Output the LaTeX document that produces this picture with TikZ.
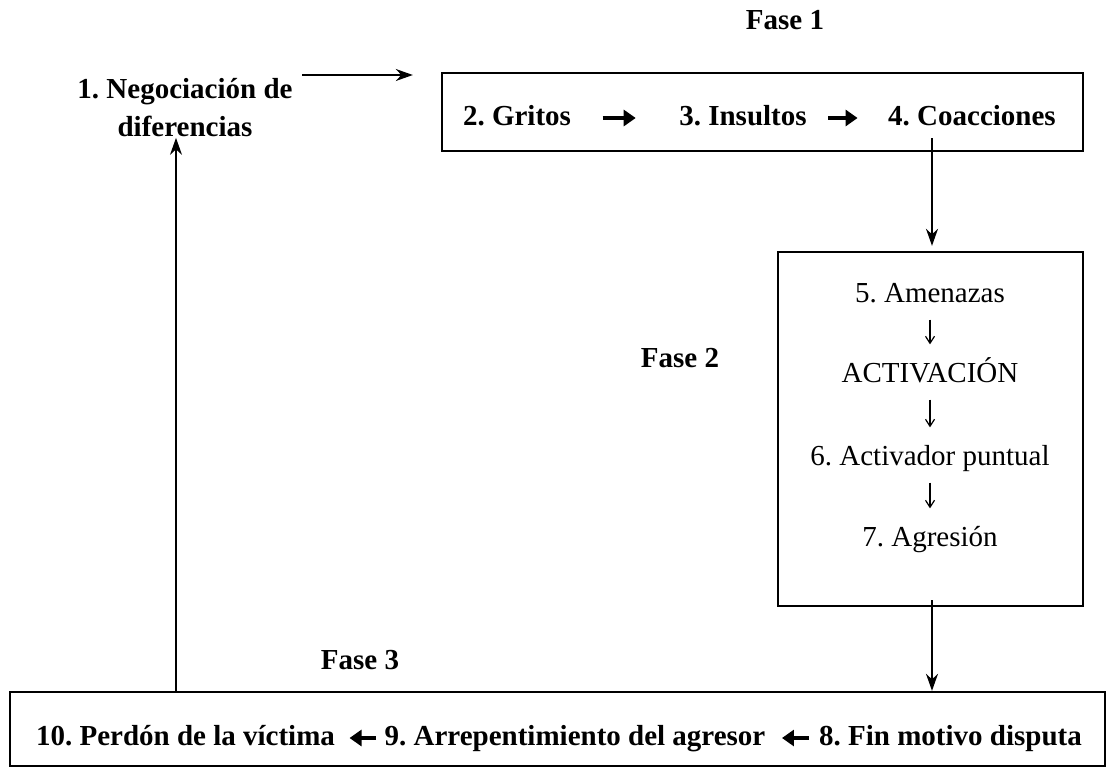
\documentclass[tikz,border=0pt]{standalone}
\usepackage{fontspec}
\setmainfont{Liberation Serif}
\usetikzlibrary{arrows,arrows.meta,shapes}
\frenchspacing

\begin{document}
\begin{tikzpicture}[x=1pt,y=-1pt,>={Stealth[length=17pt,width=12pt]},->,line width=1.3pt,
                    paso node/.style={inner sep=0pt,text height=20pt,text depth=6pt,font=\fontsize{29}{38}\selectfont},
                    bold node/.style={paso node,font=\fontsize{29}{38}\selectfont\bfseries},
                    fase node/.style={draw,line width=2.4pt,inner sep=0pt},
                    thin arrow/.style={-{Straight Barb[length=7pt,width=9pt]},line width=1.2pt,shorten <=11pt,shorten >=17pt},
                    fat arrow/.style={-{Triangle[length=12pt,width=16pt]},line width=4.5pt}]

  \useasboundingbox (0,0) rectangle (1112,769);

  % cajas de las fases
  \node[fase node,minimum width=641pt,minimum height=78pt] (f1) at (762.5,112) {};
  \node[fase node,minimum width=305pt,minimum height=354pt] (f2) at (930.5,429) {};
  \node[fase node,minimum width=1095pt,minimum height=74pt] (f3) at (557.5,729) {};

  \node[bold node] (t1) at (785,22) {Fase 1};
  \node[bold node] (t2) at (680,360) {Fase 2};
  \node[bold node] (t3) at (360,662) {Fase 3};

  \node[inner sep=0pt,align=center,font=\fontsize{29}{38}\selectfont\bfseries] (1) at (185,108)
    {1. Negociación de\\diferencias};

  \node[bold node] (2) at (517,118) {2. Gritos};
  \node[bold node] (3) at (743,118) {3. Insultos};
  \node[bold node] (4) at (972,118) {4. Coacciones};

  \node[paso node] (5)   at (930,295) {5. Amenazas};
  \node[paso node] (act) at (930,375) {ACTIVACIÓN};
  \node[paso node] (6)   at (930,458) {6. Activador puntual};
  \node[paso node] (7)   at (930,539) {7. Agresión};

  \node[bold node] (10) at (185.5,738) {10. Perdón de la víctima};
  \node[bold node] (9)  at (575,738)   {9. Arrepentimiento del agresor};
  \node[bold node] (8)  at (950.5,738) {8. Fin motivo disputa};

  \coordinate (a1)  at (302,75);
  \coordinate (a4)  at (932,138);
  \coordinate (a7)  at (932,600);
  \coordinate (a10) at (176,692);

  \path
    (2) edge [fat arrow,shorten <=31pt,shorten >=43pt] (3)
    (3) edge [fat arrow,shorten <=21pt,shorten >=30pt] (4)
    (5) edge [thin arrow] (act)
    (act) edge [thin arrow] (6)
    (6) edge [thin arrow] (7)
    (9) edge [fat arrow,shorten <=8pt,shorten >=14pt] (10)
    (8) edge [fat arrow,shorten <=10pt,shorten >=16pt] (9);

  \draw[shorten >=28pt] (a1) -- (a1 -| f1.west);
  \draw[shorten >=5pt] (a4) -- (a4 |- f2.north);
  \draw (a7) -- (a7 |- f3.north);
  \draw (a10) -- (a10 |- 1.south);
\end{tikzpicture}
\end{document}
